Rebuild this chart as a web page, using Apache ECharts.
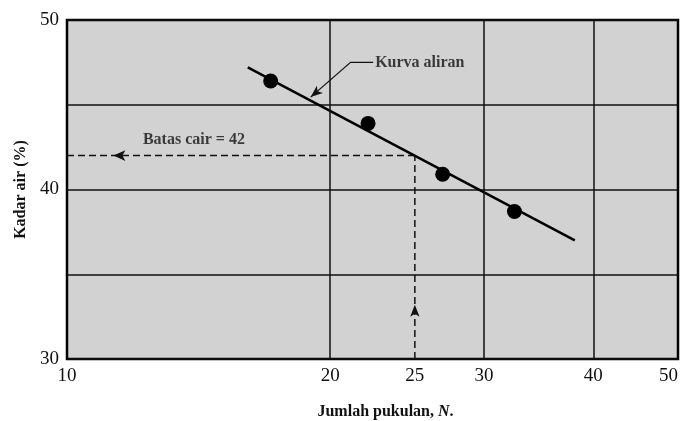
<!DOCTYPE html>
<html><head><meta charset="utf-8">
<script src="https://cdn.jsdelivr.net/npm/echarts@6/dist/echarts.min.js"></script>
<style>html,body{margin:0;padding:0;background:#fff}#c{width:686px;height:421px}</style>
</head><body><div id="c"></div>
<script>
// Data
var pointsN = [17.1, 22.1, 26.9, 32.5];
var pointsW = [46.4, 43.9, 40.9, 38.7];
var curveN = [16.1, 38.1];
var curveW = [47.2, 37.0];
var liquidLimitN = 25;
var liquidLimitW = 42;
var xTickLabels = [10, 20, 25, 30, 40, 50];
var xGridLines = [20, 30, 40];
var yTickLabels = [30, 40, 50];
var leaderN = [22.4, 21.1, 19.0];
var leaderW = [47.5, 47.5, 45.45];
var curveLabel = 'Kurva aliran';
var limitLabel = 'Batas cair = 42';
var curveLabelPos = [22.4, 47.5];
var limitLabelPos = [12.15, 42.9];
var hArrowN = 11.3;
var vArrowW = 33.2;

var serif = '"Liberation Serif", "DejaVu Serif", serif';
var chart = echarts.init(document.getElementById('c'));
chart.setOption({
  animation: false,
  backgroundColor: '#fff',
  grid: {left: 67, right: 8, top: 20, bottom: 62, outerBoundsMode: 'none', containLabel: false,
    show: true, backgroundColor: '#d2d2d2', borderColor: '#000', borderWidth: 2.5},
  xAxis: {
    type: 'log', logBase: 10, min: 10, max: 50,
    name: 'Jumlah pukulan, {i|N}.', nameLocation: 'middle', nameGap: 45,
    nameTextStyle: {fontFamily: serif, fontWeight: 'bold', fontSize: 16, color: '#111', padding: [0, 0, 0, 26],
      rich: {i: {fontFamily: serif, fontWeight: 'bold', fontStyle: 'italic', fontSize: 16, color: '#111'}}},
    axisLine: {show: false}, axisTick: {show: false}, splitLine: {show: false},
    axisLabel: {customValues: xTickLabels, fontFamily: serif, fontSize: 19, color: '#111', margin: 8,
      showMinLabel: true, showMaxLabel: true, alignMaxLabel: 'right'}
  },
  yAxis: {
    type: 'value', min: 30, max: 50, interval: 5,
    name: 'Kadar air (%)', nameLocation: 'middle', nameGap: 38, nameRotate: 90,
    nameTextStyle: {fontFamily: serif, fontWeight: 'bold', fontSize: 16, color: '#111', padding: [0, 0, 0, 0]},
    axisLine: {show: false}, axisTick: {show: false},
    splitLine: {show: true, lineStyle: {color: '#111', width: 1.5}},
    axisLabel: {fontFamily: serif, fontSize: 19, color: '#111', margin: 8,
      formatter: function (v) { return yTickLabels.indexOf(v) >= 0 ? String(v) : ''; }}
  },
  series: [
    {type: 'line', data: [], silent: true,
      markLine: {silent: true, symbol: 'none', label: {show: false},
        lineStyle: {color: '#111', width: 1.5, type: 'solid'},
        data: xGridLines.map(function (v) { return {xAxis: v}; })}},
    {type: 'line', name: 'limitH', silent: true, symbol: 'none',
      data: [[10, liquidLimitW], [liquidLimitN, liquidLimitW]],
      lineStyle: {color: '#111', width: 1.5, type: [7, 4]},
      markPoint: {symbol: 'arrow', symbolSize: [8, 12], symbolRotate: 90, itemStyle: {color: '#111'}, label: {show: false},
        data: [{coord: [hArrowN, liquidLimitW]}]}},
    {type: 'line', name: 'limitV', silent: true, symbol: 'none',
      data: [[liquidLimitN, 30], [liquidLimitN, liquidLimitW]],
      lineStyle: {color: '#111', width: 1.5, type: [7, 4]},
      markPoint: {symbol: 'arrow', symbolSize: [7, 12], symbolRotate: 0, itemStyle: {color: '#111'}, label: {show: false},
        data: [{coord: [liquidLimitN, vArrowW]}]}},
    {type: 'line', name: 'curve', silent: true, symbol: 'none',
      data: curveN.map(function (n, i) { return [n, curveW[i]]; }),
      lineStyle: {color: '#000', width: 2.5}},
    {type: 'line', name: 'leader', silent: true, symbol: 'none',
      data: leaderN.map(function (n, i) { return [n, leaderW[i]]; }),
      lineStyle: {color: '#111', width: 1.3},
      markPoint: {symbol: 'arrow', symbolSize: [7, 12], symbolRotate: 130, itemStyle: {color: '#111'}, label: {show: false},
        data: [{coord: [leaderN[2], leaderW[2]]}]}},
    {type: 'scatter', name: 'points', silent: true, symbol: 'circle', symbolSize: 15,
      itemStyle: {color: '#000', opacity: 1},
      data: pointsN.map(function (n, i) { return [n, pointsW[i]]; })},
    {type: 'scatter', name: 'labels', silent: true, symbolSize: 0,
      label: {show: true, position: 'right', distance: 2, fontFamily: serif, fontWeight: 'bold', fontSize: 16, color: '#111',
        formatter: function (p) { return p.data.t; }},
      data: [{value: curveLabelPos, t: curveLabel}, {value: limitLabelPos, t: limitLabel}]}
  ]
});
</script></body></html>
